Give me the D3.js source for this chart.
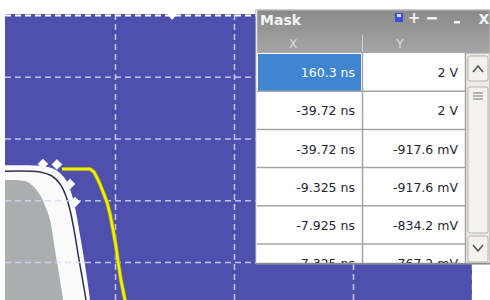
<!DOCTYPE html>
<html><head><meta charset="utf-8">
<script src="https://cdn.jsdelivr.net/npm/d3@7"></script>
<style>html,body{margin:0;padding:0;background:#fff;}svg{display:block;}</style>
</head><body>
<svg id="c" width="490" height="300"></svg>
<script>
// ---- data (time in ns, voltage in mV) ----
const gridTimes = [-5, 0, 5, 10, 15];
const gridVolts = [400, 200, 0, -200, -400];

const waveT = [-2.23, -1.05, -0.88, -0.67, -0.50, -0.34, -0.21, -0.08, 0.04, 0.13, 0.25, 0.42, 0.50];
const waveV = [-98.8, -98.8, -108.5, -140.9, -173.3, -205.7, -244.6, -296.4, -348.2, -400, -458.3, -523.1, -587.9];

const maskOuterT = [-5.67, -3.07, -2.48, -2.06, -1.81, -1.64, -1.47, -1.26, -1.05, -0.97];
const maskOuterV = [-89.1, -89.1, -102.0, -134.4, -183.0, -238.1, -312.6, -409.7, -523.1, -587.9];

const maskEdgeT = [-5.67, -3.15, -2.65, -2.31, -2.06, -1.89, -1.72, -1.51, -1.22, -1.13];
const maskEdgeV = [-108.5, -108.5, -121.5, -147.4, -186.2, -231.6, -296.4, -393.5, -523.1, -587.9];

const maskInnerT = [-5.67, -3.78, -3.45, -3.15, -2.90, -2.73, -2.52, -2.18, -2.10];
const maskInnerV = [-137.7, -137.7, -153.9, -183.0, -225.1, -263.9, -361.1, -523.1, -587.9];

const handleT = [-3.03, -2.44, -1.89, -1.68];
const handleV = [-82.6, -84.2, -147.4, -205.7];

const triggerT = [2.4];

const tableTitle = "Mask";
const tableHeaders = ["X", "Y"];
const maskX = ["160.3 ns", "-39.72 ns", "-39.72 ns", "-9.325 ns", "-7.925 ns", "-7.325 ns"];
const maskY = ["2 V", "2 V", "-917.6 mV", "-917.6 mV", "-834.2 mV", "-767.2 mV"];

// ---- layout ----
const svg = d3.select("#c");
const plot = {left: 5, top: 14, right: 472, bottom: 300};
const x = d3.scaleLinear().domain([-5, 15]).range([-4, 472]);
const y = d3.scaleLinear().domain([-400, 400]).range([262, 15]);

const defs = svg.append("defs");
defs.append("clipPath").attr("id", "pc")
  .append("rect").attr("x", plot.left).attr("y", plot.top)
  .attr("width", plot.right - plot.left).attr("height", plot.bottom - plot.top);

const g = svg.append("g").attr("clip-path", "url(#pc)");
g.append("rect").attr("x", plot.left).attr("y", plot.top)
  .attr("width", plot.right - plot.left).attr("height", plot.bottom - plot.top)
  .attr("fill", "#4f4fae");

const line = d3.line().x(d => x(d[0])).y(d => y(d[1])).curve(d3.curveCatmullRom.alpha(0.5));
const lineLin = d3.line().x(d => x(d[0])).y(d => y(d[1]));
const zip = (a, b) => a.map((v, i) => [v, b[i]]);
const bottomV = y.invert(330);

function area(ts, vs) {
  const pts = zip(ts, vs);
  return line(pts) + `L${x(ts[ts.length-1])},${y(bottomV)}L${x(ts[0])},${y(bottomV)}Z`;
}

// mask: white margin, grey fill, dark edge
g.append("path").attr("d", area(maskOuterT, maskOuterV)).attr("fill", "#fbfbfb");
g.append("path").attr("d", area(maskInnerT, maskInnerV)).attr("fill", "#abaeae");
g.append("path").attr("d", line(zip(maskEdgeT, maskEdgeV))).attr("fill", "none")
  .attr("stroke", "#2e3050").attr("stroke-width", 1.5);

// grid via axes
const gx = g.append("g").attr("transform", `translate(0,${plot.top})`)
  .call(d3.axisBottom(x).tickValues(gridTimes).tickSize(plot.bottom - plot.top).tickFormat(""));
const gy = g.append("g").attr("transform", `translate(${plot.left},0)`)
  .call(d3.axisRight(y).tickValues(gridVolts).tickSize(plot.right - plot.left).tickFormat(""));
[gx, gy].forEach(a => {
  a.select(".domain").remove();
  a.selectAll("line").attr("stroke", "#d6d6fa").attr("stroke-width", 1.6)
    .attr("stroke-dasharray", "6,4").attr("opacity", 0.85);
});
gy.selectAll("line").filter(d => d === 400).attr("stroke", "#ffffff").attr("opacity", 1).attr("stroke-width", 2);

// trigger marker
g.selectAll(".trig").data(triggerT).join("path").attr("class", "trig")
  .attr("d", d => `M${x(d)-5},${plot.top}L${x(d)+5},${plot.top}L${x(d)},${plot.top+6}Z`)
  .attr("fill", "#fff");

// handles
g.selectAll(".hd").data(zip(handleT, handleV)).join("path").attr("class", "hd")
  .attr("d", d3.symbol(d3.symbolDiamond2, 64))
  .attr("transform", d => `translate(${x(d[0])},${y(d[1])})`)
  .attr("fill", "#ffffff").attr("stroke", "#e4e4ee").attr("stroke-width", 0.8);

// waveform
g.append("path").attr("d", lineLin(zip(waveT, waveV))).attr("fill", "none")
  .attr("stroke", "#9a9a20").attr("stroke-width", 4.2).attr("stroke-linejoin", "round");
g.append("path").attr("d", lineLin(zip(waveT, waveV))).attr("fill", "none")
  .attr("stroke", "#f2f200").attr("stroke-width", 2.6).attr("stroke-linejoin", "round");

// ---- Mask table panel ----
const P = {x: 256, y: 10, w: 234, h: 254, titleH: 24, headH: 19, rowH: 38.2, col1: 362, col2: 465};
const pnl = svg.append("g");
const grad = defs.append("linearGradient").attr("id", "tb").attr("x1", 0).attr("y1", 0).attr("x2", 0).attr("y2", 1);
grad.append("stop").attr("offset", "0%").attr("stop-color", "#8a8a8a");
grad.append("stop").attr("offset", "100%").attr("stop-color", "#a6a6a6");
pnl.append("rect").attr("x", P.x).attr("y", P.y).attr("width", P.w).attr("height", P.h)
  .attr("fill", "#ecebe5").attr("stroke", "#9c9c9c");
pnl.append("rect").attr("x", P.x + 0.5).attr("y", P.y + 0.5).attr("width", P.w - 1).attr("height", P.titleH + P.headH)
  .attr("fill", "url(#tb)");
pnl.append("line").attr("x1", P.x + 0.5).attr("x2", P.x + 0.5).attr("y1", P.y).attr("y2", P.y + P.h)
  .attr("stroke", "#e8e8e8").attr("stroke-width", 1.5);
pnl.append("text").attr("x", P.x + 4).attr("y", P.y + 15).text(tableTitle)
  .attr("font-family", "DejaVu Sans, sans-serif").attr("font-weight", "bold").attr("font-size", 14)
  .attr("fill", "#f4f4f4");
// title icons
pnl.append("rect").attr("x", 395).attr("y", 13).attr("width", 8).attr("height", 9).attr("fill", "#3a4fd6");
pnl.append("rect").attr("x", 397).attr("y", 14).attr("width", 4).attr("height", 3).attr("fill", "#d8dcff");
pnl.append("text").attr("x", 414).attr("y", 23).attr("text-anchor", "middle").text("+")
  .attr("font-family", "DejaVu Sans, sans-serif").attr("font-weight", "bold").attr("font-size", 15).attr("fill", "#f2f2f2");
pnl.append("rect").attr("x", 427).attr("y", 17).attr("width", 10).attr("height", 2.5).attr("fill", "#f2f2f2");
pnl.append("rect").attr("x", 454).attr("y", 21).attr("width", 6).attr("height", 2.5).attr("fill", "#f2f2f2");
pnl.append("text").attr("x", 484).attr("y", 24).attr("text-anchor", "middle").text("X")
  .attr("font-family", "DejaVu Sans, sans-serif").attr("font-weight", "bold").attr("font-size", 14).attr("fill", "#f2f2f2");

// column headers
const colCenters = [293, 400];
pnl.selectAll(".hdr").data(tableHeaders).join("text").attr("class", "hdr")
  .attr("x", (d, i) => colCenters[i]).attr("y", P.y + P.titleH + 14).attr("text-anchor", "middle")
  .text(d => d).attr("font-family", "DejaVu Sans, sans-serif").attr("font-size", 12).attr("fill", "#dcdcdc");
pnl.append("line").attr("x1", P.col1 + 0.5).attr("x2", P.col1 + 0.5)
  .attr("y1", P.y + P.titleH + 1).attr("y2", P.y + P.titleH + P.headH - 1).attr("stroke", "#d0d0d0");

// cells
const top0 = P.y + P.titleH + P.headH;
const cellsBottom = P.y + P.h - 1;
defs.append("clipPath").attr("id", "tc").append("rect")
  .attr("x", P.x).attr("y", top0).attr("width", P.w).attr("height", cellsBottom - top0);
pnl.append("rect").attr("x", P.x + 1).attr("y", top0).attr("width", P.col2 - P.x - 1)
  .attr("height", cellsBottom - top0).attr("fill", "#ffffff");
const rows = maskX.map((v, i) => ({x: v, y: maskY[i], i}));
const rg = pnl.append("g").attr("clip-path", "url(#tc)");
rg.append("rect").attr("x", P.x + 2).attr("y", top0 + 1).attr("width", P.col1 - P.x - 3).attr("height", P.rowH - 1)
  .attr("fill", "#3f85cf");
rows.forEach(r => {
  const yy = top0 + r.i * P.rowH;
  if (r.i > 0) rg.append("line").attr("x1", P.x + 1).attr("x2", P.col2).attr("y1", yy).attr("y2", yy)
    .attr("stroke", "#a4a4a4").attr("stroke-width", 1.5);
  rg.append("text").attr("x", P.col1 - 7).attr("y", yy + P.rowH / 2 + 5).attr("text-anchor", "end").text(r.x)
    .attr("font-family", "DejaVu Sans, sans-serif").attr("font-size", 12.5)
    .attr("fill", r.i === 0 ? "#ffffff" : "#262633");
  rg.append("text").attr("x", P.col2 - 7).attr("y", yy + P.rowH / 2 + 5).attr("text-anchor", "end").text(r.y)
    .attr("font-family", "DejaVu Sans, sans-serif").attr("font-size", 12.5).attr("fill", "#262633");
});
pnl.append("line").attr("x1", P.col1 + 0.5).attr("x2", P.col1 + 0.5).attr("y1", top0).attr("y2", cellsBottom)
  .attr("stroke", "#a4a4a4").attr("stroke-width", 1.5);
pnl.append("line").attr("x1", P.col2 + 0.5).attr("x2", P.col2 + 0.5).attr("y1", top0).attr("y2", cellsBottom)
  .attr("stroke", "#a4a4a4").attr("stroke-width", 1.5);
pnl.append("line").attr("x1", P.x).attr("x2", P.x + P.w).attr("y1", cellsBottom + 0.5).attr("y2", cellsBottom + 0.5)
  .attr("stroke", "#8c8c8c").attr("stroke-width", 1.5);

// scrollbar
const sb = pnl.append("g");
function btn(y0, h) {
  sb.append("rect").attr("x", 468).attr("y", y0).attr("width", 20).attr("height", h).attr("rx", 2)
    .attr("fill", "#f3f2ec").attr("stroke", "#b5b4ac");
}
btn(56, 25); btn(87, 146); btn(236, 26);
sb.append("path").attr("d", "M473,72L478,66L483,72").attr("fill", "none").attr("stroke", "#555").attr("stroke-width", 1.6);
sb.append("path").attr("d", "M473,245L478,251L483,245").attr("fill", "none").attr("stroke", "#555").attr("stroke-width", 1.6);
[93, 96, 99].forEach(yy => sb.append("line").attr("x1", 473).attr("x2", 483).attr("y1", yy).attr("y2", yy)
  .attr("stroke", "#777").attr("stroke-width", 1));
</script>
</body></html>
